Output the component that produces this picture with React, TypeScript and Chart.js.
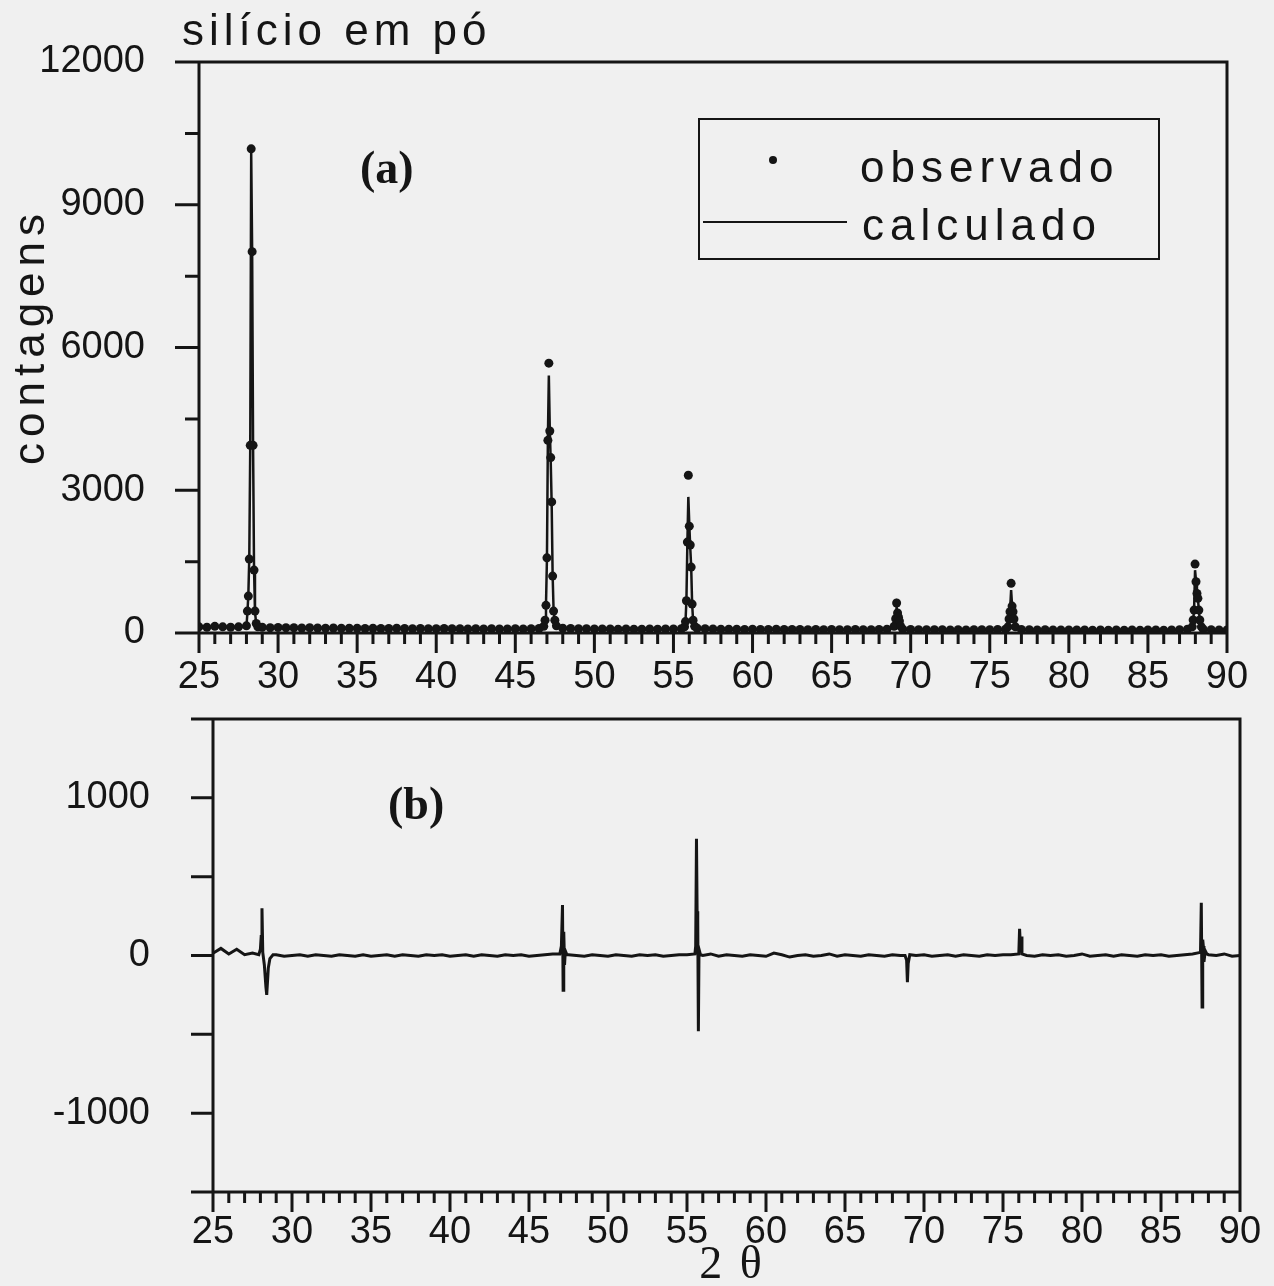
import React, { useEffect, useRef } from "react";
import { Chart, registerables } from "chart.js";

Chart.register(...registerables);

// ---------------- (a) observed / calculated counts ----------------
const xTicksA = [25, 30, 35, 40, 45, 50, 55, 60, 65, 70, 75, 80, 85, 90];
const yTicksA = [0, 3000, 6000, 9000, 12000];
const yMinorA = [1500, 4500, 7500, 10500];

// background (observed ~ calculated)
const bgTheta = [
  25, 25.5, 26, 26.5, 27, 27.5,
  29, 29.5, 30, 30.5, 31, 31.5, 32, 32.5, 33, 33.5, 34, 34.5, 35, 35.5, 36, 36.5, 37, 37.5,
  38, 38.5, 39, 39.5, 40, 40.5, 41, 41.5, 42, 42.5, 43, 43.5, 44, 44.5, 45, 45.5, 46, 46.5,
  48, 48.5, 49, 49.5, 50, 50.5, 51, 51.5, 52, 52.5, 53, 53.5, 54, 54.5, 55, 55.5,
  56.5, 57, 57.5, 58, 58.5, 59, 59.5, 60, 60.5, 61, 61.5, 62, 62.5, 63, 63.5, 64, 64.5, 65,
  65.5, 66, 66.5, 67, 67.5, 68, 68.5,
  69.5, 70, 70.5, 71, 71.5, 72, 72.5, 73, 73.5, 74, 74.5, 75, 75.5, 76,
  77, 77.5, 78, 78.5, 79, 79.5, 80, 80.5, 81, 81.5, 82, 82.5, 83, 83.5, 84, 84.5, 85, 85.5,
  86, 86.5, 87, 87.5,
  88.5, 89, 89.5, 90,
];
const bgCounts = [
  130, 120, 140, 130, 120, 130,
  120, 110, 115, 110, 110, 105, 110, 105, 100, 105, 100, 100, 100, 95, 100, 95, 95, 100,
  95, 90, 95, 90, 90, 95, 90, 90, 85, 90, 85, 90, 85, 85, 90, 85, 90, 95,
  100, 95, 90, 90, 85, 85, 85, 80, 85, 80, 80, 85, 80, 85, 85, 90,
  100, 90, 85, 80, 80, 80, 75, 80, 75, 75, 80, 75, 75, 75, 70, 75, 70, 75,
  70, 70, 75, 70, 70, 75, 80,
  80, 75, 70, 70, 70, 70, 65, 70, 65, 70, 70, 70, 75, 80,
  75, 70, 65, 70, 65, 65, 65, 65, 65, 60, 65, 60, 65, 60, 65, 60, 65, 65,
  60, 65, 70, 80,
  80, 70, 65, 65,
];

// Si (111)
const p1Theta = [28.0, 28.06, 28.12, 28.18, 28.24, 28.3, 28.36, 28.42, 28.48, 28.54, 28.62, 28.72];
const p1Obs = [150, 461, 776, 1553, 3944, 10175, 8014, 3944, 1322, 461, 200, 130];
const p1Calc = [140, 420, 800, 1600, 3900, 10100, 8050, 3900, 1350, 440, 190, 120];
// Si (220)
const p2Theta = [46.8, 46.88, 46.94, 47.0, 47.06, 47.12, 47.18, 47.24, 47.3, 47.36, 47.42, 47.5, 47.6];
const p2Obs = [140, 270, 581, 1580, 4049, 5671, 4245, 3686, 2755, 1196, 461, 270, 150];
const p2Calc = [130, 250, 600, 1550, 4100, 5410, 4300, 3600, 2700, 1220, 480, 250, 140];
// Si (311)
const p3Theta = [55.7, 55.76, 55.82, 55.88, 55.94, 56.0, 56.06, 56.12, 56.18, 56.24, 56.34];
const p3Obs = [130, 240, 678, 1910, 3315, 2245, 1850, 1385, 608, 270, 140];
const p3Calc = [120, 230, 700, 1900, 2860, 2300, 1800, 1400, 620, 260, 130];
// Si (400)
const p4Theta = [68.95, 69.05, 69.11, 69.17, 69.23, 69.29, 69.37];
const p4Obs = [140, 300, 630, 420, 330, 250, 140];
const p4Calc = [130, 290, 540, 430, 320, 240, 130];
// Si (331)
const p5Theta = [76.15, 76.22, 76.28, 76.35, 76.41, 76.47, 76.53, 76.62];
const p5Obs = [130, 294, 447, 1043, 566, 447, 294, 130];
const p5Calc = [120, 300, 460, 900, 580, 440, 280, 120];
// Si (422)
const p6Theta = [87.8, 87.86, 87.92, 87.98, 88.04, 88.1, 88.16, 88.22, 88.28, 88.38];
const p6Obs = [130, 273, 482, 1448, 1076, 832, 728, 482, 273, 130];
const p6Calc = [120, 260, 500, 1320, 1100, 820, 720, 490, 270, 120];

// ---------------- (b) difference observed - calculated ----------------
const xTicksB = [25, 30, 35, 40, 45, 50, 55, 60, 65, 70, 75, 80, 85, 90];
const yTicksB = [-1000, 0, 1000];
const yMarksB = [-1500, -1000, -500, 0, 500, 1000, 1500];

const dBgTheta = [
  25, 25.5, 26, 26.5, 27, 27.5,
  29, 29.5, 30, 30.5, 31, 31.5, 32, 32.5, 33, 33.5, 34, 34.5, 35, 35.5, 36, 36.5, 37, 37.5,
  38, 38.5, 39, 39.5, 40, 40.5, 41, 41.5, 42, 42.5, 43, 43.5, 44, 44.5, 45, 45.5, 46, 46.5,
  47.5, 48, 48.5, 49, 49.5, 50, 50.5, 51, 51.5, 52, 52.5, 53, 53.5, 54, 54.5, 55,
  56, 56.5, 57, 57.5, 58, 58.5, 59, 59.5, 60, 60.5, 61, 61.5, 62, 62.5, 63, 63.5, 64, 64.5,
  65, 65.5, 66, 66.5, 67, 67.5, 68, 68.5,
  69.5, 70, 70.5, 71, 71.5, 72, 72.5, 73, 73.5, 74, 74.5, 75, 75.5,
  76.5, 77, 77.5, 78, 78.5, 79, 79.5, 80, 80.5, 81, 81.5, 82, 82.5, 83, 83.5, 84, 84.5, 85,
  85.5, 86, 86.5, 87,
  88, 88.5, 89, 89.5, 90,
];
const dBg = [
  15, 45, 10, 40, 5, 15,
  5, -5, 0, 5, -5, 5, 0, -5, 5, 0, -5, 5, -5, 0, 5, -5, 5, 0,
  -5, 5, 0, 5, -5, 0, 5, -5, 5, 0, -5, 5, 0, 5, -5, 0, 5, 10,
  5, 0, -5, 5, 0, -5, 5, 0, -5, 5, 0, 5, -5, 0, 5, 5,
  0, 10, -5, 5, 0, -5, 5, 0, -5, 15, 5, -10, 0, 5, -5, 0, 10, -5,
  5, 0, -5, 5, 0, -5, 5, 0,
  0, 5, -5, 0, 5, -5, 5, 0, -5, 5, 0, 5, 5,
  0, -5, 5, 0, 5, -5, 0, 10, -5, 0, 5, -5, 5, 0, -5, 5, 0, 5,
  -5, 0, 5, 10,
  5, 0, 10, -5, 0,
];
const f1Theta = [27.9, 28.0, 28.05, 28.1, 28.15, 28.25, 28.35, 28.4, 28.5, 28.6, 28.8];
const f1Diff = [5, 40, 120, 300, 20, -60, -200, -250, -80, -20, 5];
const f2Theta = [46.95, 47.05, 47.12, 47.16, 47.2, 47.25, 47.3, 47.4];
const f2Diff = [10, 60, 320, -220, 150, -60, 30, 5];
const f3Theta = [55.5, 55.55, 55.6, 55.64, 55.68, 55.72, 55.76, 55.85];
const f3Diff = [10, 60, 740, 280, 220, -480, 40, 5];
const f4Theta = [68.8, 68.9, 68.95, 69.0, 69.1];
const f4Diff = [0, -30, -170, -50, 5];
const f5Theta = [76.0, 76.05, 76.1, 76.15, 76.2];
const f5Diff = [10, 170, 60, 120, 10];
const f6Theta = [87.5, 87.55, 87.6, 87.64, 87.68, 87.72, 87.8, 87.9];
const f6Diff = [20, 334, -327, 100, 60, -40, 30, 10];

// ---------------- helpers ----------------
type Pt = { x: number; y: number };
const zip = (xs: number[], ys: number[]): Pt[] => xs.map((x, i) => ({ x, y: ys[i] }));
const merged = (pairs: [number[], number[]][]): Pt[] =>
  pairs.flatMap(([xs, ys]) => zip(xs, ys)).sort((a, b) => a.x - b.x);

const INK = "#151515";
const SANS = "'Liberation Sans', Arial, Helvetica, sans-serif";
const SERIF = "'Liberation Serif', 'Times New Roman', serif";

const intRange = (a: number, b: number) => {
  const out: number[] = [];
  for (let v = a; v <= b; v++) out.push(v);
  return out;
};

interface FrameCfg {
  yMarks: number[];
  yMajor: number[];
  yLenMajor: number;
  yLenMinor: number;
  xMarks: number[];
  xMajor: number[];
  xLenMajor: number;
  xLenMinor: number;
  lineWidth: number;
}

function framePlugin(cfg: FrameCfg) {
  return {
    id: "frame",
    afterDraw(chart: any) {
      const { ctx, chartArea: a } = chart;
      const xs = chart.scales.x;
      const ys = chart.scales.y;
      ctx.save();
      ctx.strokeStyle = INK;
      ctx.lineWidth = cfg.lineWidth;
      ctx.beginPath();
      ctx.rect(a.left, a.top, a.right - a.left, a.bottom - a.top);
      for (const v of cfg.yMarks) {
        const y = ys.getPixelForValue(v);
        const len = cfg.yMajor.includes(v) ? cfg.yLenMajor : cfg.yLenMinor;
        ctx.moveTo(a.left - len, y);
        ctx.lineTo(a.left, y);
      }
      for (const v of cfg.xMarks) {
        const x = xs.getPixelForValue(v);
        const len = cfg.xMajor.includes(v) ? cfg.xLenMajor : cfg.xLenMinor;
        ctx.moveTo(x, a.bottom);
        ctx.lineTo(x, a.bottom + len);
      }
      ctx.stroke();
      ctx.restore();
    },
  };
}

const tickFont = { family: SANS, size: 38 };
// invisible tick marks are used only to offset the labels from the axis
const hiddenGrid = (len: number) => ({
  display: true,
  drawOnChartArea: false,
  drawTicks: true,
  tickLength: len,
  color: "rgba(0,0,0,0)",
});

function xScale(ticks: number[], height: number, gap: number) {
  return {
    type: "linear",
    min: 25,
    max: 90,
    afterFit: (s: any) => {
      s.height = height;
    },
    afterBuildTicks: (s: any) => {
      s.ticks = ticks.map((v) => ({ value: v }));
    },
    grid: hiddenGrid(gap),
    border: { display: false },
    ticks: {
      padding: 0,
      font: tickFont,
      color: INK,
      maxRotation: 0,
      autoSkip: false,
      callback: (v: any) => String(v),
    },
  };
}

function yScale(ticks: number[], min: number, max: number, width: number, gap: number) {
  return {
    type: "linear",
    min,
    max,
    afterFit: (s: any) => {
      s.width = width;
    },
    afterBuildTicks: (s: any) => {
      s.ticks = ticks.map((v) => ({ value: v }));
    },
    grid: hiddenGrid(gap),
    border: { display: false },
    ticks: {
      padding: 0,
      font: tickFont,
      color: INK,
      callback: (v: any) => String(v),
    },
  };
}

export default function App() {
  const topRef = useRef<HTMLCanvasElement | null>(null);
  const botRef = useRef<HTMLCanvasElement | null>(null);

  useEffect(() => {
    const charts: Chart[] = [];
    if (topRef.current) {
      charts.push(
        new Chart(topRef.current, {
          type: "scatter",
          data: {
            datasets: [
              {
                label: "observado",
                data: merged([
                  [bgTheta, bgCounts],
                  [p1Theta, p1Obs],
                  [p2Theta, p2Obs],
                  [p3Theta, p3Obs],
                  [p4Theta, p4Obs],
                  [p5Theta, p5Obs],
                  [p6Theta, p6Obs],
                ]),
                showLine: false,
                pointRadius: 4.5,
                pointHoverRadius: 4.5,
                pointBackgroundColor: INK,
                pointBorderWidth: 0,
              },
              {
                label: "calculado",
                data: merged([
                  [bgTheta, bgCounts],
                  [p1Theta, p1Calc],
                  [p2Theta, p2Calc],
                  [p3Theta, p3Calc],
                  [p4Theta, p4Calc],
                  [p5Theta, p5Calc],
                  [p6Theta, p6Calc],
                ]),
                showLine: true,
                borderColor: INK,
                borderWidth: 2.5,
                pointRadius: 0,
                tension: 0,
              },
            ],
          },
          options: {
            responsive: false,
            animation: false,
            devicePixelRatio: 1,
            events: [],
            layout: { padding: { top: 62, right: 47, left: 0, bottom: 0 } },
            plugins: { legend: { display: false }, tooltip: { enabled: false } },
            scales: {
              x: xScale(xTicksA, 67, 22),
              y: yScale(yTicksA, 0, 12000, 199, 54),
            },
          },
          plugins: [
            framePlugin({
              yMarks: [...yTicksA, ...yMinorA],
              yMajor: yTicksA,
              yLenMajor: 24,
              yLenMinor: 14,
              xMarks: intRange(25, 90),
              xMajor: xTicksA,
              xLenMajor: 20,
              xLenMinor: 11,
              lineWidth: 3,
            }),
          ],
        } as any)
      );
    }
    if (botRef.current) {
      charts.push(
        new Chart(botRef.current, {
          type: "scatter",
          data: {
            datasets: [
              {
                label: "observado - calculado",
                data: merged([
                  [dBgTheta, dBg],
                  [f1Theta, f1Diff],
                  [f2Theta, f2Diff],
                  [f3Theta, f3Diff],
                  [f4Theta, f4Diff],
                  [f5Theta, f5Diff],
                  [f6Theta, f6Diff],
                ]),
                showLine: true,
                borderColor: INK,
                borderWidth: 3,
                pointRadius: 0,
                tension: 0,
              },
            ],
          },
          options: {
            responsive: false,
            animation: false,
            devicePixelRatio: 1,
            events: [],
            layout: { padding: { top: 29, right: 34, left: 0, bottom: 0 } },
            plugins: { legend: { display: false }, tooltip: { enabled: false } },
            scales: {
              x: xScale(xTicksB, 94, 18),
              y: yScale(yTicksB, -1500, 1500, 213, 63),
            },
          },
          plugins: [
            framePlugin({
              yMarks: yMarksB,
              yMajor: yMarksB,
              yLenMajor: 22,
              yLenMinor: 22,
              xMarks: intRange(25, 90),
              xMajor: xTicksB,
              xLenMajor: 20,
              xLenMinor: 11,
              lineWidth: 3,
            }),
          ],
        } as any)
      );
    }
    return () => charts.forEach((c) => c.destroy());
  }, []);

  const abs = (s: React.CSSProperties): React.CSSProperties => ({
    position: "absolute",
    whiteSpace: "nowrap",
    lineHeight: 1,
    color: INK,
    margin: 0,
    ...s,
  });

  return (
    <div
      style={{
        position: "absolute",
        left: 0,
        top: 0,
        width: 1274,
        height: 1286,
        background: "#f0f0f0",
        overflow: "hidden",
      }}
    >
      <canvas ref={topRef} width={1274} height={700} style={{ position: "absolute", left: 0, top: 0 }} />
      <canvas ref={botRef} width={1274} height={596} style={{ position: "absolute", left: 0, top: 690 }} />

      {/* title */}
      <div style={abs({ left: 182, top: 8, fontFamily: SANS, fontSize: 44, letterSpacing: 5 })}>silício em pó</div>

      {/* y-axis title (a) */}
      <div
        style={abs({
          left: 0,
          top: 0,
          fontFamily: SANS,
          fontSize: 44,
          letterSpacing: 6,
          transformOrigin: "0 0",
          transform: "translate(7px, 465px) rotate(-90deg)",
        })}
      >
        contagens
      </div>

      {/* panel labels */}
      <div style={abs({ left: 360, top: 145, fontFamily: SERIF, fontWeight: "bold", fontSize: 46 })}>(a)</div>
      <div style={abs({ left: 388, top: 781, fontFamily: SERIF, fontWeight: "bold", fontSize: 46 })}>(b)</div>

      {/* legend */}
      <div
        style={{
          position: "absolute",
          left: 698,
          top: 118,
          width: 458,
          height: 138,
          border: `2px solid ${INK}`,
        }}
      />
      <div
        style={{
          position: "absolute",
          left: 769,
          top: 156,
          width: 8,
          height: 8,
          borderRadius: "50%",
          background: INK,
        }}
      />
      <div style={{ position: "absolute", left: 703, top: 221, width: 144, height: 2, background: INK }} />
      <div style={abs({ left: 860, top: 145, fontFamily: SANS, fontSize: 44, letterSpacing: 6 })}>observado</div>
      <div style={abs({ left: 862, top: 203, fontFamily: SANS, fontSize: 44, letterSpacing: 6 })}>calculado</div>

      {/* x-axis title (b) */}
      <div style={abs({ left: 632, top: 1240, width: 200, textAlign: "center", fontFamily: SERIF, fontSize: 46, letterSpacing: 3 })}>
        2 θ
      </div>
    </div>
  );
}
